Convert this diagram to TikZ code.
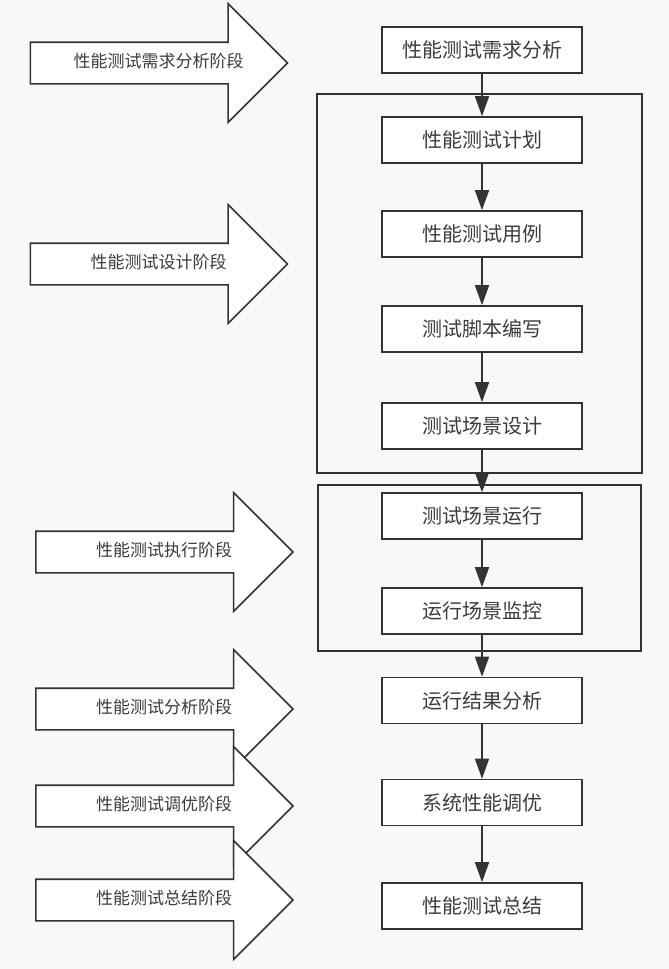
\documentclass[tikz,border=0pt]{standalone}
\usepackage{fontspec}
\newfontfamily\cjk{Noto Sans CJK SC}
\usetikzlibrary{shapes.arrows,arrows.meta}
\definecolor{line}{RGB}{51,51,51}
\definecolor{ink}{RGB}{60,60,60}
\definecolor{bg}{RGB}{248,248,248}
\tikzset{
  phase/.style={single arrow, draw=line, fill=white, line width=1.6pt,
    single arrow head extend=38.5pt, minimum height=257pt,
    text height=12pt, text depth=4pt, inner ysep=12pt, inner xsep=0pt,
    execute at begin node={\hspace*{20pt}},
    text=ink, font=\cjk\fontsize{17}{20}\selectfont},
  stepbox/.style={draw=line, fill=white, line width=1.6pt,
    minimum width=200pt, minimum height=46pt, inner sep=0pt,
    text=ink, font=\cjk\fontsize{20}{24}\selectfont},
  frame/.style={draw=line, line width=1.6pt},
  flow/.style={draw=line, line width=1.6pt,
    -{Triangle[width=14pt,length=20pt]}}
}
\begin{document}
\begin{tikzpicture}[x=1pt,y=-1pt]
        \fill[bg] (0,0) rectangle (669,969);
        \useasboundingbox (0,0) rectangle (669,969);
        % stage frames
        \draw[frame] (317,94) rectangle (642,473);
        \draw[frame] (318,485) rectangle (641,651);
        % phase arrows
        \node[phase] (p1) at (148.5,63) {性能测试需求分析阶段};
        \node[phase] (p2) at (148.5,264) {性能测试设计阶段};
        \node[phase] (p3) at (154,552) {性能测试执行阶段};
        \node[phase] (p4) at (154,709) {性能测试分析阶段};
        \node[phase] (p5) at (154,806) {性能测试调优阶段};
        \node[phase] (p6) at (154,900) {性能测试总结阶段};
        % steps
        \node[stepbox] (b1) at (482,50) {性能测试需求分析};
        \node[stepbox] (b2) at (482,140) {性能测试计划};
        \node[stepbox] (b3) at (482,234) {性能测试用例};
        \node[stepbox] (b4) at (482,329) {测试脚本编写};
        \node[stepbox] (b5) at (482,426) {测试场景设计};
        \node[stepbox] (b6) at (482,516) {测试场景运行};
        \node[stepbox] (b7) at (482,611) {运行场景监控};
        \node[stepbox] (b8) at (482,700.5) {运行结果分析};
        \node[stepbox] (b9) at (482,802.5) {系统性能调优};
        \node[stepbox] (b10) at (482,906) {性能测试总结};
        \draw[flow] (b1) -- (b2);
        \draw[flow] (b2) -- (b3);
        \draw[flow] (b3) -- (b4);
        \draw[flow] (b4) -- (b5);
        \draw[flow] (b5) -- (b6);
        \draw[flow] (b6) -- (b7);
        \draw[flow] (b7) -- (b8);
        \draw[flow] (b8) -- (b9);
        \draw[flow] (b9) -- (b10);
      \end{tikzpicture}
\end{document}
